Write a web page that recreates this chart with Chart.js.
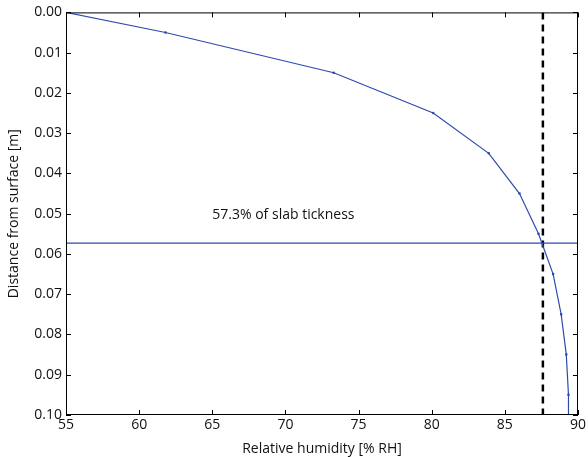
<!DOCTYPE html>
<html>
<head>
<meta charset="utf-8">
<script src="https://cdn.jsdelivr.net/npm/chart.js@4/dist/chart.umd.min.js"></script>
<style>
  html, body { margin: 0; padding: 0; background: #fff; }
  #wrap { width: 588px; height: 457px; }
</style>
</head>
<body>
<div id="wrap"><canvas id="chart"></canvas></div>
<script>
// humidity profile through the slab
const depth = [0, 0.005, 0.015, 0.025, 0.035, 0.045, 0.055, 0.065, 0.075, 0.085, 0.095, 0.1];
const humidity = [55, 61.8, 73.3, 80.1, 83.9, 86.0, 87.3, 88.3, 88.85, 89.2, 89.35, 89.35];

// marker lines
const slabDepth = 0.0573;
const criticalRH = 87.6;
const noteText = "57.3% of slab tickness";
const notePos = [65, 0.0504];

const xTicks = [55, 60, 65, 70, 75, 80, 85, 90];
const yTicks = [0, 0.01, 0.02, 0.03, 0.04, 0.05, 0.06, 0.07, 0.08, 0.09, 0.1];

const FONT = "'Open Sans', 'DejaVu Sans', sans-serif";
const BLUE = "#2c4bb0";
const INK = "#111";

const frame = {
    id: "frame",
    afterDatasetsDraw(chart) {
        const { ctx, chartArea: a, scales: { x, y } } = chart;
        ctx.save();
        ctx.strokeStyle = "#000";
        ctx.lineWidth = 1;
        ctx.strokeRect(a.left + 0.5, a.top + 0.5, a.right - a.left - 1, a.bottom - a.top - 1);
        ctx.beginPath();
        const len = 5;
        xTicks.forEach(v => {
            const px = Math.round(x.getPixelForValue(v)) + 0.5;
            ctx.moveTo(px, a.bottom); ctx.lineTo(px, a.bottom - len);
            ctx.moveTo(px, a.top); ctx.lineTo(px, a.top + len);
        });
        yTicks.forEach(v => {
            const py = Math.round(y.getPixelForValue(v)) + 0.5;
            ctx.moveTo(a.left, py); ctx.lineTo(a.left + len, py);
            ctx.moveTo(a.right, py); ctx.lineTo(a.right - len, py);
        });
        ctx.stroke();

        ctx.fillStyle = INK;
        ctx.font = "14px " + FONT;
        ctx.textBaseline = "middle";
        ctx.fillText(noteText, x.getPixelForValue(notePos[0]), y.getPixelForValue(notePos[1]));
        ctx.restore();
    }
};

new Chart(document.getElementById("chart"), {
    type: "scatter",
    data: {
        datasets: [{
            data: humidity.map((h, i) => ({ x: h, y: depth[i] })),
            showLine: true,
            borderColor: BLUE,
            backgroundColor: BLUE,
            borderWidth: 1.2,
            pointRadius: 0.7,
            pointHoverRadius: 0.7
        }, {
            data: [{ x: 55, y: slabDepth }, { x: 90, y: slabDepth }],
            showLine: true,
            borderColor: BLUE,
            borderWidth: 1.2,
            pointRadius: 0
        }, {
            data: [{ x: criticalRH, y: 0 }, { x: criticalRH, y: 0.1 }],
            showLine: true,
            borderColor: "#000",
            borderWidth: 2.5,
            borderDash: [7, 5],
            pointRadius: 0
        }]
    },
    options: {
        responsive: true,
        maintainAspectRatio: false,
        animation: false,
        layout: { padding: { left: 0, right: 8, top: 10, bottom: 0 } },
        plugins: { legend: { display: false }, tooltip: { enabled: false } },
        scales: {
            x: {
                type: "linear",
                min: 55,
                max: 90,
                afterBuildTicks: s => { s.ticks = xTicks.map(v => ({ value: v })); },
                afterFit: s => { s.height = 42; },
                grid: { display: false, drawTicks: false },
                border: { display: false },
                ticks: { color: INK, padding: 2, font: { family: FONT, size: 14 } },
                title: {
                    display: true,
                    text: "Relative humidity [% RH]",
                    color: INK,
                    padding: 0,
                    font: { family: FONT, size: 14 }
                }
            },
            y: {
                type: "linear",
                reverse: true,
                min: 0,
                max: 0.1,
                afterBuildTicks: s => { s.ticks = yTicks.map(v => ({ value: v })); },
                afterFit: s => { s.width = 66; },
                grid: { display: false, drawTicks: false },
                border: { display: false },
                ticks: {
                    color: INK,
                    padding: 4,
                    font: { family: FONT, size: 14 },
                    callback: v => v.toFixed(2)
                },
                title: {
                    display: true,
                    text: "Distance from surface [m]",
                    color: INK,
                    padding: { top: 6, bottom: 0 },
                    font: { family: FONT, size: 14 }
                }
            }
        }
    },
    plugins: [frame]
});
</script>
</body>
</html>
